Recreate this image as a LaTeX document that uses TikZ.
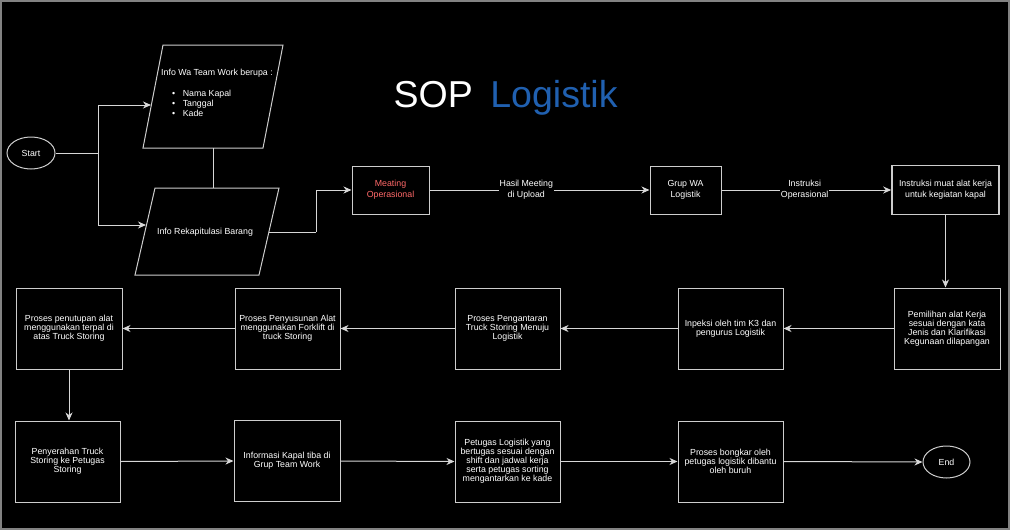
\documentclass[tikz,border=0pt]{standalone}
\usepackage{fontspec}
\setmainfont{Liberation Sans}
\usetikzlibrary{arrows.meta,shapes.geometric}
\definecolor{edgecol}{RGB}{215,215,215}
\definecolor{bord}{RGB}{205,205,205}
\definecolor{titleblue}{RGB}{32,96,176}
\definecolor{meetred}{RGB}{255,105,105}
\definecolor{frame}{RGB}{130,130,130}
\begin{document}
\begin{tikzpicture}[x=1pt,y=-1pt,
  box/.style={draw=bord, line width=1pt, fill=black, text=white, align=center, inner sep=0pt, font=\fontsize{8.8}{9}\selectfont},
  widebox/.style={box, font=\fontsize{8.8}{11}\selectfont},
  oval/.style={ellipse, draw=bord, line width=1pt, fill=black, text=white, inner sep=0pt, font=\fontsize{8.8}{9}\selectfont},
  para/.style={draw=bord, line width=1pt, fill=black},
  conn/.style={draw=edgecol, line width=1pt, -{Stealth[length=8pt,width=7pt,inset=2.5pt]}},
  plain/.style={draw=edgecol, line width=1pt},
  lbl/.style={fill=black, text=white, align=center, inner sep=1pt, font=\fontsize{8.8}{11}\selectfont},
  txt/.style={text=white, inner sep=0pt, font=\fontsize{8.8}{10}\selectfont}]
\useasboundingbox (0,0) rectangle (1010,530);
\fill[black] (0,0) rectangle (1010,530);
\draw[frame, line width=2pt] (1,1) rectangle (1009,529);

% title
\node[text=white, inner sep=0pt, anchor=base west, font=\fontsize{37.5}{40}\selectfont] (title) at (393.5,107.3) {SOP\hspace{17.5pt}\textcolor{titleblue}{Logistik}};

% start
\node[oval, minimum width=48pt, minimum height=32pt] (start) at (31,153) {Start};

% parallelograms
\draw[para] (163,45) -- (283,45) -- (263,148) -- (143,148) -- cycle;
\node[txt] (wahead) at (217,73) {Info Wa Team Work berupa :};
\node[txt, align=left, anchor=base west] (walist) at (172,116.3) {\textbullet\hspace{7.5pt}Nama Kapal\\\textbullet\hspace{7.5pt}Tanggal\\\textbullet\hspace{7.5pt}Kade};
\coordinate (p1w) at (151,105);
\coordinate (p1s) at (213,148);

\draw[para] (155,188) -- (279,188) -- (259,275) -- (135,275) -- cycle;
\node[txt] (rekap) at (205,232) {Info Rekapitulasi Barang};
\coordinate (p2n) at (213,188);
\coordinate (p2w) at (146,225);
\coordinate (p2e) at (269,232);

% row 1
\node[widebox, minimum width=77pt, minimum height=48pt, text=meetred] (meet) at (390.5,190) {Meating\\Operasional};
\node[widebox, minimum width=71pt, minimum height=48pt] (grup) at (685.5,190) {Grup WA\\Logistik};
\node[widebox, minimum width=107pt, minimum height=49pt, line width=1.6pt] (instr) at (945.5,190) {Instruksi muat alat kerja\\untuk kegiatan kapal};

% row 2
\node[box, minimum width=106pt, minimum height=81pt] (pemi) at (947,328.5) {Pemilihan alat Kerja\\sesuai dengan kata\\Jenis dan Klarifikasi\\Kegunaan dilapangan};
\node[box, minimum width=105pt, minimum height=81pt] (inpek) at (730.5,328.5) {Inpeksi oleh tim K3 dan\\pengurus Logistik};
\node[box, minimum width=105pt, minimum height=81pt] (antar) at (507.5,328.5) {Proses Pengantaran\\Truck Storing Menuju\\Logistik};
\node[box, minimum width=105pt, minimum height=81pt] (susun) at (287.5,328.5) {Proses Penyusunan Alat\\menggunakan Forklift di\\truck Storing};
\node[box, minimum width=106pt, minimum height=81pt] (tutup) at (69,328.5) {Proses penutupan alat\\menggunakan terpal di\\atas Truck Storing};

% row 3
\node[box, minimum width=105pt, minimum height=81pt] (serah) at (67.5,461.5) {Penyerahan Truck\\Storing ke Petugas\\Storing};
\node[box, minimum width=106pt, minimum height=81pt] (infok) at (287,461) {Informasi Kapal tiba di\\Grup Team Work};
\node[box, minimum width=105pt, minimum height=81pt] (petugas) at (507.5,461.5) {Petugas Logistik yang\\bertugas sesuai dengan\\shift dan jadwal kerja\\serta petugas sorting\\mengantarkan ke kade};
\node[box, minimum width=105pt, minimum height=81pt] (bongkar) at (730.5,461.5) {Proses bongkar oleh\\petugas logistik dibantu\\oleh buruh};
\node[oval, minimum width=47pt, minimum height=32pt] (end) at (946.5,462) {End};

% connectors
\coordinate (fork) at (98,153);
\draw[plain] (start.east) -- (fork);
\draw[conn] (fork) |- (p1w);
\draw[conn] (fork) |- (p2w);
\draw[plain] (p1s) -- (p2n);
\coordinate (bend) at (316,232);
\draw[plain] (p2e) -- (bend);
\draw[conn] (bend) |- (meet.west);
\draw[conn] (meet.east) -- (grup.west) node[lbl, pos=0.44] (l1) {Hasil Meeting\\di Upload};
\draw[conn] (grup.east) -- (instr.west) node[lbl, pos=0.49] (l2) {Instruksi\\Operasional};
\draw[conn] (instr.south) -- (instr.south |- pemi.north);
\draw[conn] (pemi.west) -- (inpek.east);
\draw[conn] (inpek.west) -- (antar.east);
\draw[conn] (antar.west) -- (susun.east);
\draw[conn] (susun.west) -- (tutup.east);
\draw[conn] (tutup.south) -- (tutup.south |- serah.north);
\draw[conn] (serah.east) -- (infok.west);
\draw[conn] (infok.east) -- (petugas.west);
\draw[conn] (petugas.east) -- (bongkar.west);
\draw[conn] (bongkar.east) -- (end.west);
\end{tikzpicture}
\end{document}
